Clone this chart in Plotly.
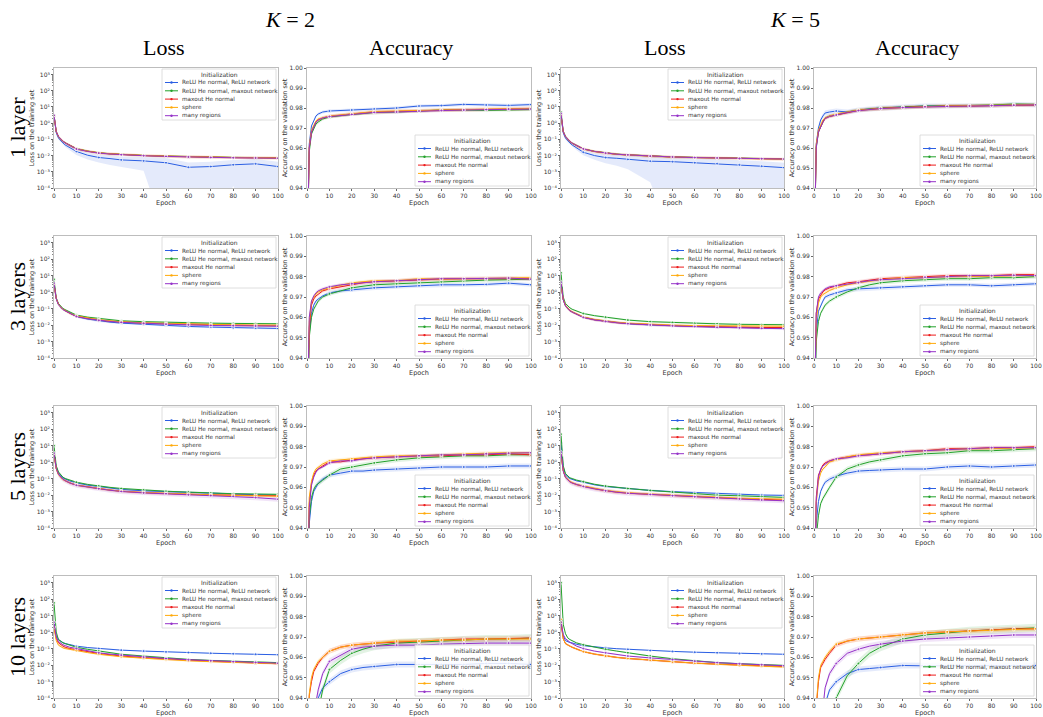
import plotly.graph_objects as go

# ---------------- data ----------------
EPOCHS = [0, 1, 2, 3, 4, 5, 7, 10, 15, 20, 25, 30, 40, 50, 60, 70, 80, 90, 100]
SERIES_NAMES = ["ReLU He normal, ReLU network", "ReLU He normal, maxout network",
                "maxout He normal", "sphere", "many regions"]
SERIES_COLORS = ["#2b5fe3", "#23a22b", "#ec1c1c", "#ffa90a", "#9532c8"]
LEGEND_TITLE = "Initialization"
EPOCH_TICKS = [0, 10, 20, 30, 40, 50, 60, 70, 80, 90, 100]
ACC_TICKS = [0.94, 0.95, 0.96, 0.97, 0.98, 0.99, 1.00]
LOSS_TICK_EXPONENTS = [-4, -3, -2, -1, 0, 1, 2, 3]
ROW_LABELS = ["1 layer", "3 layers", "5 layers", "10 layers"]
COLUMN_TITLES = ["Loss", "Accuracy", "Loss", "Accuracy"]
GROUP_TITLES = ["<i>K</i> = 2", "<i>K</i> = 5"]
X_TITLE = "Epoch"
LOSS_Y_TITLE = "Loss on the training set"
ACC_Y_TITLE = "Accuracy on the validation set"

# training loss, order: ReLU/ReLU, ReLU/maxout, maxout He, sphere, many regions
LOSS_K2_L1 = [
    [3.0, 0.25, 0.12, 0.08, 0.06, 0.045, 0.03, 0.018, 0.0105, 0.0076, 0.0065, 0.0054, 0.0047, 0.0036, 0.0019, 0.0021, 0.0027, 0.0031, 0.0021],
    [3.2, 0.30, 0.15, 0.10, 0.077, 0.062, 0.043, 0.027, 0.019, 0.0148, 0.013, 0.0117, 0.0102, 0.0093, 0.0085, 0.0080, 0.0077, 0.0075, 0.0073],
    [3.0, 0.30, 0.15, 0.10, 0.076, 0.061, 0.042, 0.026, 0.0185, 0.0145, 0.0128, 0.0115, 0.0100, 0.0091, 0.0083, 0.0078, 0.0075, 0.0073, 0.0071],
    [2.8, 0.29, 0.145, 0.098, 0.075, 0.060, 0.042, 0.026, 0.0187, 0.0147, 0.0129, 0.0116, 0.0101, 0.0092, 0.0084, 0.0079, 0.0076, 0.0074, 0.0072],
    [3.1, 0.30, 0.15, 0.10, 0.075, 0.060, 0.041, 0.0255, 0.018, 0.0142, 0.0125, 0.0112, 0.0098, 0.0089, 0.0081, 0.0076, 0.0073, 0.0071, 0.0069],
]
LOSS_K5_L1 = [
    [3.0, 0.25, 0.12, 0.08, 0.06, 0.045, 0.03, 0.016, 0.010, 0.0075, 0.0068, 0.0058, 0.0045, 0.0042, 0.0036, 0.0032, 0.0027, 0.0022, 0.0018],
    [5.0, 0.32, 0.155, 0.10, 0.076, 0.059, 0.041, 0.026, 0.0182, 0.0142, 0.0122, 0.0111, 0.0093, 0.0083, 0.0077, 0.0072, 0.0067, 0.0065, 0.0062],
    [3.5, 0.30, 0.15, 0.10, 0.075, 0.058, 0.040, 0.0258, 0.018, 0.014, 0.012, 0.011, 0.0092, 0.0082, 0.0076, 0.0071, 0.0066, 0.0064, 0.0061],
    [3.0, 0.30, 0.148, 0.099, 0.074, 0.057, 0.040, 0.0255, 0.0178, 0.0139, 0.0119, 0.0109, 0.0091, 0.0081, 0.0075, 0.0070, 0.0066, 0.0063, 0.0060],
    [4.0, 0.30, 0.15, 0.10, 0.075, 0.058, 0.040, 0.0257, 0.0179, 0.014, 0.012, 0.011, 0.0092, 0.0082, 0.0075, 0.0071, 0.0066, 0.0064, 0.0061],
]
LOSS_K2_L3 = [
    [3.0, 0.40, 0.18, 0.12, 0.09, 0.075, 0.052, 0.033, 0.023, 0.018, 0.015, 0.013, 0.011, 0.0095, 0.0082, 0.0075, 0.0068, 0.0065, 0.0062],
    [6.0, 0.45, 0.20, 0.13, 0.10, 0.085, 0.060, 0.040, 0.030, 0.025, 0.021, 0.018, 0.016, 0.0145, 0.0135, 0.013, 0.0125, 0.012, 0.012],
    [3.0, 0.40, 0.18, 0.12, 0.09, 0.075, 0.052, 0.034, 0.025, 0.020, 0.017, 0.015, 0.013, 0.012, 0.011, 0.0102, 0.0097, 0.0093, 0.0090],
    [2.8, 0.40, 0.18, 0.12, 0.092, 0.076, 0.053, 0.035, 0.026, 0.021, 0.018, 0.0155, 0.0135, 0.0123, 0.0113, 0.0106, 0.0102, 0.0099, 0.0098],
    [3.5, 0.38, 0.17, 0.115, 0.088, 0.073, 0.051, 0.033, 0.024, 0.019, 0.0165, 0.0145, 0.0125, 0.0112, 0.0102, 0.0094, 0.0090, 0.0087, 0.0085],
]
LOSS_K5_L3 = [
    [3.0, 0.35, 0.15, 0.10, 0.075, 0.062, 0.045, 0.030, 0.021, 0.017, 0.014, 0.012, 0.0102, 0.0090, 0.0082, 0.0076, 0.0071, 0.0068, 0.0065],
    [15.0, 0.50, 0.20, 0.14, 0.11, 0.09, 0.068, 0.050, 0.037, 0.030, 0.024, 0.020, 0.016, 0.0142, 0.0127, 0.0118, 0.011, 0.0105, 0.0105],
    [3.0, 0.35, 0.15, 0.10, 0.075, 0.062, 0.045, 0.030, 0.021, 0.017, 0.014, 0.0125, 0.0105, 0.0093, 0.0084, 0.0078, 0.0073, 0.0071, 0.0070],
    [2.5, 0.36, 0.155, 0.105, 0.078, 0.064, 0.046, 0.031, 0.022, 0.0175, 0.0148, 0.013, 0.011, 0.0098, 0.0092, 0.0088, 0.0086, 0.0085, 0.0085],
    [4.0, 0.34, 0.145, 0.098, 0.074, 0.061, 0.044, 0.029, 0.0205, 0.0165, 0.0138, 0.012, 0.010, 0.0089, 0.0080, 0.0072, 0.0067, 0.0063, 0.0060],
]
LOSS_K2_L5 = [
    [3.0, 0.50, 0.22, 0.15, 0.11, 0.095, 0.072, 0.055, 0.040, 0.033, 0.027, 0.022, 0.018, 0.016, 0.014, 0.012, 0.011, 0.0105, 0.010],
    [10.0, 0.60, 0.25, 0.16, 0.12, 0.10, 0.078, 0.060, 0.044, 0.035, 0.029, 0.025, 0.020, 0.017, 0.015, 0.013, 0.012, 0.0115, 0.011],
    [3.0, 0.40, 0.18, 0.12, 0.09, 0.075, 0.055, 0.040, 0.030, 0.025, 0.020, 0.017, 0.014, 0.012, 0.011, 0.0102, 0.0097, 0.0093, 0.0090],
    [2.5, 0.38, 0.17, 0.115, 0.088, 0.074, 0.055, 0.040, 0.030, 0.025, 0.020, 0.017, 0.0142, 0.0125, 0.011, 0.0102, 0.0095, 0.009, 0.0085],
    [3.5, 0.40, 0.18, 0.12, 0.09, 0.074, 0.054, 0.039, 0.029, 0.024, 0.0195, 0.0165, 0.0135, 0.012, 0.0103, 0.0092, 0.0083, 0.0070, 0.0056],
]
LOSS_K5_L5 = [
    [15.0, 0.50, 0.17, 0.12, 0.10, 0.09, 0.072, 0.060, 0.042, 0.033, 0.028, 0.024, 0.019, 0.016, 0.014, 0.012, 0.011, 0.010, 0.0095],
    [50.0, 0.60, 0.20, 0.14, 0.11, 0.10, 0.080, 0.065, 0.045, 0.035, 0.029, 0.025, 0.019, 0.015, 0.012, 0.0098, 0.009, 0.008, 0.0072],
    [3.0, 0.30, 0.12, 0.085, 0.065, 0.055, 0.043, 0.034, 0.024, 0.018, 0.015, 0.013, 0.011, 0.0092, 0.0080, 0.0070, 0.0060, 0.0055, 0.0050],
    [2.5, 0.30, 0.125, 0.088, 0.068, 0.057, 0.044, 0.035, 0.025, 0.019, 0.016, 0.0138, 0.0115, 0.0097, 0.0082, 0.0072, 0.0064, 0.0060, 0.0056],
    [4.0, 0.28, 0.115, 0.082, 0.063, 0.053, 0.042, 0.033, 0.0235, 0.0178, 0.0148, 0.0128, 0.0107, 0.0090, 0.0078, 0.0068, 0.0058, 0.0050, 0.0045],
]
LOSS_K2_L10 = [
    [3.0, 0.60, 0.35, 0.27, 0.23, 0.20, 0.17, 0.14, 0.115, 0.10, 0.088, 0.080, 0.070, 0.062, 0.057, 0.052, 0.048, 0.045, 0.042],
    [60.0, 1.0, 0.35, 0.26, 0.22, 0.20, 0.16, 0.12, 0.09, 0.07, 0.055, 0.045, 0.035, 0.027, 0.022, 0.019, 0.017, 0.015, 0.014],
    [2.0, 0.40, 0.22, 0.17, 0.14, 0.12, 0.10, 0.085, 0.063, 0.050, 0.042, 0.035, 0.028, 0.023, 0.019, 0.017, 0.015, 0.013, 0.012],
    [2.0, 0.30, 0.16, 0.13, 0.11, 0.10, 0.088, 0.075, 0.057, 0.045, 0.038, 0.032, 0.026, 0.021, 0.018, 0.016, 0.0145, 0.013, 0.012],
    [4.0, 0.50, 0.27, 0.20, 0.17, 0.15, 0.12, 0.10, 0.072, 0.055, 0.046, 0.040, 0.030, 0.025, 0.021, 0.018, 0.016, 0.0145, 0.013],
]
LOSS_K5_L10 = [
    [5.0, 0.60, 0.30, 0.25, 0.23, 0.22, 0.18, 0.15, 0.125, 0.11, 0.098, 0.090, 0.075, 0.067, 0.060, 0.055, 0.050, 0.047, 0.045],
    [1000.0, 3.0, 0.80, 0.45, 0.35, 0.30, 0.22, 0.17, 0.12, 0.09, 0.07, 0.055, 0.035, 0.024, 0.018, 0.014, 0.012, 0.0105, 0.0095],
    [3.0, 0.40, 0.20, 0.16, 0.14, 0.12, 0.09, 0.065, 0.046, 0.035, 0.029, 0.025, 0.019, 0.016, 0.013, 0.011, 0.010, 0.009, 0.008],
    [6.0, 0.40, 0.20, 0.16, 0.14, 0.12, 0.09, 0.065, 0.046, 0.035, 0.029, 0.025, 0.020, 0.015, 0.013, 0.011, 0.0095, 0.0085, 0.0075],
    [4.0, 0.70, 0.40, 0.30, 0.24, 0.20, 0.14, 0.10, 0.07, 0.055, 0.043, 0.035, 0.027, 0.021, 0.017, 0.014, 0.012, 0.0105, 0.009],
]

# relative spread of the loss bands (scalar or per-epoch list)
BLUE_SPREAD_K2_L1 = [0.2, 0.2, 0.2, 0.2, 0.2, 0.25, 0.3, 0.4, 0.45, 0.5, 0.6, 0.65, 0.75, 1.0, 1.0, 1.0, 0.95, 1.0, 1.0]
BLUE_SPREAD_K5_L1 = [0.2, 0.2, 0.2, 0.2, 0.2, 0.25, 0.3, 0.35, 0.45, 0.55, 0.65, 0.75, 0.95, 1.0, 1.0, 1.0, 1.0, 1.0, 1.0]
LOSS_SPREAD_K2_L1 = [BLUE_SPREAD_K2_L1, 0.12, 0.2, 0.2, 0.12]
LOSS_SPREAD_K5_L1 = [BLUE_SPREAD_K5_L1, 0.12, 0.2, 0.2, 0.12]
LOSS_SPREAD_K2_L3 = [0.15, 0.12, 0.18, 0.18, 0.12]
LOSS_SPREAD_K5_L3 = [0.15, 0.12, 0.18, 0.18, 0.15]
LOSS_SPREAD_K2_L5 = [0.12, 0.12, 0.18, 0.18, 0.3]
LOSS_SPREAD_K5_L5 = [0.12, 0.12, 0.2, 0.25, 0.3]
LOSS_SPREAD_K2_L10 = [0.08, 0.1, 0.12, 0.12, 0.1]
LOSS_SPREAD_K5_L10 = [0.08, 0.1, 0.12, 0.15, 0.1]

# validation accuracy
ACC_K2_L1 = [
    [0.90, 0.962, 0.971, 0.974, 0.976, 0.977, 0.978, 0.9785, 0.9788, 0.979, 0.9792, 0.9795, 0.980, 0.981, 0.9812, 0.9818, 0.9815, 0.9813, 0.9817],
    [0.90, 0.958, 0.967, 0.970, 0.972, 0.973, 0.9745, 0.9755, 0.9762, 0.9768, 0.9772, 0.9778, 0.978, 0.9785, 0.979, 0.979, 0.9788, 0.979, 0.9792],
    [0.90, 0.960, 0.968, 0.971, 0.973, 0.974, 0.975, 0.9758, 0.9765, 0.977, 0.9775, 0.978, 0.9783, 0.9787, 0.979, 0.9792, 0.9793, 0.9796, 0.9797],
    [0.90, 0.961, 0.969, 0.9715, 0.9735, 0.9745, 0.9752, 0.976, 0.9765, 0.977, 0.9775, 0.9782, 0.9785, 0.9788, 0.979, 0.9792, 0.9794, 0.9796, 0.9798],
    [0.90, 0.960, 0.968, 0.971, 0.973, 0.974, 0.975, 0.9757, 0.9763, 0.9768, 0.9773, 0.9778, 0.978, 0.9785, 0.9787, 0.979, 0.9792, 0.9795, 0.9795],
]
ACC_K5_L1 = [
    [0.90, 0.962, 0.970, 0.974, 0.976, 0.9775, 0.978, 0.9785, 0.978, 0.979, 0.9795, 0.980, 0.9805, 0.981, 0.981, 0.981, 0.9812, 0.9818, 0.9815],
    [0.90, 0.960, 0.968, 0.971, 0.973, 0.975, 0.976, 0.9765, 0.978, 0.979, 0.9795, 0.980, 0.9805, 0.981, 0.981, 0.9812, 0.9815, 0.982, 0.9818],
    [0.90, 0.961, 0.968, 0.971, 0.973, 0.9748, 0.9758, 0.9765, 0.9778, 0.9788, 0.9793, 0.9798, 0.9803, 0.9807, 0.981, 0.981, 0.9812, 0.9815, 0.9815],
    [0.90, 0.962, 0.969, 0.972, 0.974, 0.975, 0.976, 0.977, 0.978, 0.979, 0.9793, 0.9798, 0.9802, 0.9807, 0.981, 0.9812, 0.9813, 0.9815, 0.9817],
    [0.90, 0.960, 0.968, 0.971, 0.973, 0.9748, 0.9758, 0.9765, 0.9778, 0.9787, 0.9792, 0.9797, 0.9802, 0.9806, 0.9808, 0.981, 0.9812, 0.9814, 0.9816],
]
ACC_K2_L3 = [
    [0.90, 0.952, 0.962, 0.966, 0.968, 0.969, 0.9705, 0.972, 0.973, 0.9735, 0.974, 0.9745, 0.975, 0.9755, 0.976, 0.976, 0.9762, 0.9768, 0.976],
    [0.90, 0.950, 0.960, 0.964, 0.966, 0.968, 0.970, 0.9715, 0.973, 0.9745, 0.9753, 0.976, 0.9765, 0.977, 0.9775, 0.978, 0.9783, 0.9785, 0.9788],
    [0.90, 0.955, 0.966, 0.969, 0.9705, 0.9715, 0.973, 0.974, 0.975, 0.976, 0.977, 0.9775, 0.978, 0.9785, 0.9788, 0.979, 0.979, 0.9792, 0.979],
    [0.90, 0.958, 0.968, 0.970, 0.9715, 0.9725, 0.9735, 0.9745, 0.9758, 0.977, 0.9775, 0.978, 0.978, 0.979, 0.9788, 0.979, 0.9792, 0.9795, 0.9795],
    [0.90, 0.960, 0.968, 0.9705, 0.972, 0.973, 0.974, 0.975, 0.976, 0.9765, 0.977, 0.9775, 0.978, 0.9785, 0.979, 0.979, 0.979, 0.9793, 0.9788],
]
ACC_K5_L3 = [
    [0.90, 0.952, 0.963, 0.966, 0.968, 0.970, 0.971, 0.972, 0.9735, 0.974, 0.9742, 0.9745, 0.975, 0.9755, 0.976, 0.976, 0.9755, 0.976, 0.9765],
    [0.90, 0.948, 0.958, 0.962, 0.964, 0.966, 0.968, 0.970, 0.9725, 0.9745, 0.976, 0.977, 0.978, 0.9785, 0.979, 0.979, 0.9795, 0.9795, 0.980],
    [0.90, 0.962, 0.969, 0.971, 0.9725, 0.9735, 0.9745, 0.9755, 0.977, 0.9775, 0.9783, 0.979, 0.9795, 0.980, 0.9805, 0.9805, 0.9805, 0.981, 0.981],
    [0.90, 0.958, 0.967, 0.970, 0.9712, 0.972, 0.9732, 0.9745, 0.976, 0.977, 0.9778, 0.9785, 0.9795, 0.9795, 0.980, 0.980, 0.9802, 0.9805, 0.9805],
    [0.90, 0.962, 0.970, 0.972, 0.973, 0.974, 0.975, 0.9755, 0.9765, 0.977, 0.978, 0.9785, 0.979, 0.9798, 0.980, 0.9805, 0.9805, 0.9807, 0.9805],
]
ACC_K2_L5 = [
    [0.90, 0.942, 0.953, 0.958, 0.960, 0.962, 0.964, 0.966, 0.967, 0.968, 0.968, 0.9685, 0.969, 0.9695, 0.970, 0.970, 0.970, 0.9705, 0.9705],
    [0.90, 0.945, 0.955, 0.959, 0.961, 0.962, 0.9635, 0.966, 0.969, 0.970, 0.971, 0.972, 0.9735, 0.9745, 0.975, 0.9755, 0.9755, 0.976, 0.976],
    [0.90, 0.952, 0.962, 0.966, 0.968, 0.969, 0.9705, 0.9725, 0.9725, 0.9735, 0.974, 0.9745, 0.975, 0.9755, 0.9755, 0.976, 0.976, 0.9765, 0.976],
    [0.90, 0.955, 0.963, 0.967, 0.969, 0.970, 0.9715, 0.973, 0.9735, 0.974, 0.9745, 0.975, 0.9755, 0.9755, 0.976, 0.9765, 0.9768, 0.977, 0.977],
    [0.90, 0.950, 0.961, 0.965, 0.9675, 0.969, 0.970, 0.972, 0.973, 0.973, 0.974, 0.9745, 0.975, 0.9755, 0.976, 0.976, 0.9765, 0.9768, 0.977],
]
ACC_K5_L5 = [
    [0.90, 0.942, 0.953, 0.958, 0.9605, 0.9625, 0.964, 0.9655, 0.967, 0.968, 0.9683, 0.9685, 0.969, 0.969, 0.970, 0.9705, 0.970, 0.9705, 0.971],
    [0.88, 0.935, 0.946, 0.952, 0.9545, 0.9565, 0.960, 0.965, 0.969, 0.971, 0.9725, 0.9735, 0.9755, 0.9765, 0.977, 0.978, 0.978, 0.9785, 0.979],
    [0.90, 0.955, 0.966, 0.969, 0.971, 0.972, 0.973, 0.974, 0.975, 0.9758, 0.976, 0.9765, 0.9775, 0.978, 0.979, 0.979, 0.9795, 0.9795, 0.980],
    [0.90, 0.952, 0.963, 0.967, 0.969, 0.970, 0.9725, 0.9735, 0.975, 0.976, 0.9765, 0.977, 0.9775, 0.978, 0.9785, 0.979, 0.979, 0.9793, 0.9795],
    [0.90, 0.953, 0.965, 0.969, 0.9705, 0.9715, 0.973, 0.974, 0.9745, 0.9755, 0.976, 0.9765, 0.9775, 0.978, 0.9785, 0.979, 0.9795, 0.9795, 0.9795],
]
ACC_K2_L10 = [
    [0.85, 0.89, 0.91, 0.925, 0.934, 0.940, 0.945, 0.948, 0.952, 0.954, 0.955, 0.9555, 0.9565, 0.9565, 0.9565, 0.9565, 0.957, 0.957, 0.9565],
    [0.80, 0.86, 0.89, 0.91, 0.925, 0.933, 0.944, 0.954, 0.9585, 0.962, 0.964, 0.9655, 0.967, 0.9675, 0.968, 0.9685, 0.969, 0.969, 0.9695],
    [0.90, 0.941, 0.948, 0.953, 0.955, 0.957, 0.960, 0.963, 0.965, 0.966, 0.9665, 0.967, 0.9675, 0.968, 0.9685, 0.969, 0.969, 0.9693, 0.9695],
    [0.90, 0.942, 0.950, 0.954, 0.956, 0.958, 0.960, 0.963, 0.965, 0.966, 0.9665, 0.967, 0.968, 0.968, 0.9685, 0.9685, 0.969, 0.969, 0.969],
    [0.85, 0.895, 0.915, 0.928, 0.938, 0.944, 0.952, 0.958, 0.961, 0.964, 0.965, 0.9655, 0.966, 0.966, 0.9665, 0.9668, 0.967, 0.967, 0.967],
]
ACC_K5_L10 = [
    [0.85, 0.885, 0.905, 0.92, 0.93, 0.937, 0.944, 0.948, 0.952, 0.954, 0.9545, 0.955, 0.956, 0.9558, 0.9558, 0.956, 0.956, 0.956, 0.956],
    [0.70, 0.80, 0.85, 0.88, 0.90, 0.91, 0.925, 0.940, 0.951, 0.957, 0.962, 0.965, 0.969, 0.971, 0.972, 0.973, 0.9735, 0.974, 0.9745],
    [0.88, 0.935, 0.948, 0.955, 0.957, 0.959, 0.962, 0.966, 0.968, 0.969, 0.9695, 0.970, 0.971, 0.972, 0.9725, 0.973, 0.9735, 0.974, 0.974],
    [0.88, 0.936, 0.950, 0.956, 0.958, 0.960, 0.963, 0.9665, 0.968, 0.969, 0.9695, 0.970, 0.9712, 0.972, 0.9725, 0.973, 0.9733, 0.9737, 0.974],
    [0.84, 0.89, 0.91, 0.925, 0.935, 0.945, 0.952, 0.957, 0.962, 0.964, 0.9655, 0.9665, 0.968, 0.969, 0.9695, 0.970, 0.9705, 0.971, 0.971],
]

# absolute spread of the accuracy bands
ACC_SPREAD_K2_L1 = [0.0008, 0.0007, 0.0009, 0.0009, 0.0007]
ACC_SPREAD_K5_L1 = [0.0012, 0.0007, 0.0009, 0.0009, 0.0007]
ACC_SPREAD_K2_L3 = [0.0009, 0.0009, 0.0009, 0.0009, 0.0008]
ACC_SPREAD_K5_L3 = [0.0010, 0.0010, 0.0009, 0.0009, 0.0008]
ACC_SPREAD_K2_L5 = [0.0012, 0.0012, 0.0009, 0.0009, 0.0008]
ACC_SPREAD_K5_L5 = [0.0012, 0.0012, 0.0009, 0.0009, 0.0008]
ACC_SPREAD_K2_L10 = [0.0015, 0.0020, 0.0012, 0.0012, 0.0015]
ACC_SPREAD_K5_L10 = [0.0015, 0.0020, 0.0012, 0.0012, 0.0015]

LOSS_PANELS = [
    [(LOSS_K2_L1, LOSS_SPREAD_K2_L1), (LOSS_K5_L1, LOSS_SPREAD_K5_L1)],
    [(LOSS_K2_L3, LOSS_SPREAD_K2_L3), (LOSS_K5_L3, LOSS_SPREAD_K5_L3)],
    [(LOSS_K2_L5, LOSS_SPREAD_K2_L5), (LOSS_K5_L5, LOSS_SPREAD_K5_L5)],
    [(LOSS_K2_L10, LOSS_SPREAD_K2_L10), (LOSS_K5_L10, LOSS_SPREAD_K5_L10)],
]
ACC_PANELS = [
    [(ACC_K2_L1, ACC_SPREAD_K2_L1), (ACC_K5_L1, ACC_SPREAD_K5_L1)],
    [(ACC_K2_L3, ACC_SPREAD_K2_L3), (ACC_K5_L3, ACC_SPREAD_K5_L3)],
    [(ACC_K2_L5, ACC_SPREAD_K2_L5), (ACC_K5_L5, ACC_SPREAD_K5_L5)],
    [(ACC_K2_L10, ACC_SPREAD_K2_L10), (ACC_K5_L10, ACC_SPREAD_K5_L10)],
]

# ---------------- layout helpers ----------------
W, H = 1043, 717
ML, MR, MT, MB = 40, 3, 62, 15
AW, AH = W - ML - MR, H - MT - MB


def fx(px):
    return (px - ML) / AW


def fy(py):
    return 1 - (py - MT) / AH


COL_PX = [(54, 278), (307, 531), (561, 784), (814, 1036)]
ROW_PX = [(68, 188), (236, 358), (406, 528), (576, 698)]
SERIF = "Liberation Serif, DejaVu Serif, serif"
SANS = "DejaVu Sans, Arial, sans-serif"
SUPERSCRIPT = str.maketrans("-0123456789", "\u207b\u2070\u00b9\u00b2\u00b3\u2074\u2075\u2076\u2077\u2078\u2079")


def rgba(hexc, a):
    h = hexc.lstrip("#")
    return "rgba(%d,%d,%d,%.3f)" % (int(h[0:2], 16), int(h[2:4], 16), int(h[4:6], 16), a)


fig = go.Figure()
layout = dict(width=W, height=H, margin=dict(l=ML, r=MR, t=MT, b=MB),
              paper_bgcolor="white", plot_bgcolor="white", showlegend=False,
              font=dict(family=SANS, size=6, color="#333333"))
shapes, annotations = [], []
marker_sizes = [3 if e % 10 == 0 else 0 for e in EPOCHS]

for r in range(4):
    for c in range(4):
        idx = r * 4 + c + 1
        is_loss = c in (0, 2)
        kk = 0 if c < 2 else 1
        values, spreads = (LOSS_PANELS if is_loss else ACC_PANELS)[r][kk]
        xa = "x" if idx == 1 else "x%d" % idx
        ya = "y" if idx == 1 else "y%d" % idx
        # bands
        for s in range(5):
            m = values[s]
            assert len(m) == len(EPOCHS)
            sp = spreads[s]
            spl = sp if isinstance(sp, list) else [sp] * len(EPOCHS)
            if is_loss:
                up = [v * (1 + q) for v, q in zip(m, spl)]
                lo = [max(v * (1 - q), 1e-7) for v, q in zip(m, spl)]
            else:
                up = [v + q for v, q in zip(m, spl)]
                lo = [v - q for v, q in zip(m, spl)]
            fig.add_trace(go.Scatter(
                x=EPOCHS + EPOCHS[::-1], y=up + lo[::-1], xaxis=xa, yaxis=ya,
                fill="toself", fillcolor=rgba(SERIES_COLORS[s], 0.13),
                line=dict(width=0), mode="lines", hoverinfo="skip"))
        # lines
        for s in range(5):
            fig.add_trace(go.Scatter(
                x=EPOCHS, y=values[s], xaxis=xa, yaxis=ya, name=SERIES_NAMES[s],
                mode="lines+markers", line=dict(color=SERIES_COLORS[s], width=1),
                marker=dict(size=marker_sizes, color=SERIES_COLORS[s], symbol="circle")))

        x0, x1 = COL_PX[c]
        y0, y1 = ROW_PX[r]
        common = dict(showline=True, linecolor="#bdbdbd", linewidth=0.8, mirror=True,
                      ticks="outside", ticklen=2, tickwidth=0.6, tickcolor="#666666",
                      showgrid=False, zeroline=False, automargin=False,
                      tickfont=dict(size=6, color="#333333"))
        layout["xaxis" if idx == 1 else "xaxis%d" % idx] = dict(
            common, domain=[fx(x0), fx(x1)], anchor=ya, range=[0, 100],
            tickmode="array", tickvals=EPOCH_TICKS,
            title=dict(text=X_TITLE, font=dict(size=6.5, color="#333333"), standoff=1))
        if is_loss:
            yax = dict(common, type="log", range=[-4, 3.4], tickmode="array",
                       tickvals=[10.0 ** e for e in LOSS_TICK_EXPONENTS],
                       ticktext=["10" + str(e).translate(SUPERSCRIPT) for e in LOSS_TICK_EXPONENTS],
                       minor=dict(ticks="outside", ticklen=1.2, tickcolor="#888888",
                                  tickvals=[k * 10.0 ** e for e in LOSS_TICK_EXPONENTS for k in range(2, 10)]),
                       title=dict(text=LOSS_Y_TITLE, font=dict(size=6.5, color="#333333"), standoff=1))
        else:
            yax = dict(common, range=[0.94, 1.0], tickmode="array", tickvals=ACC_TICKS,
                       tickformat=".2f",
                       title=dict(text=ACC_Y_TITLE, font=dict(size=6.5, color="#333333"), standoff=1))
        layout["yaxis" if idx == 1 else "yaxis%d" % idx] = dict(
            yax, domain=[fy(y1), fy(y0)], anchor=xa)

        # manual legend box
        bw, bh = 114, 51
        bx1 = x1 - 2
        bx0 = bx1 - bw
        if is_loss:
            by0 = y0 + 1
        else:
            by0 = y1 - 2 - bh
        shapes.append(dict(type="rect", xref="paper", yref="paper",
                           x0=fx(bx0), x1=fx(bx1), y0=fy(by0 + bh), y1=fy(by0),
                           fillcolor="rgba(255,255,255,0.85)",
                           line=dict(color="#d6d6d6", width=0.8), layer="above"))
        annotations.append(dict(xref="paper", yref="paper", x=fx(bx0 + bw / 2), y=fy(by0 + 5.5),
                                text=LEGEND_TITLE, showarrow=False, xanchor="center", yanchor="middle",
                                font=dict(size=6, color="#333333", family=SANS), borderpad=0))
        for s in range(5):
            ly = by0 + 13.5 + s * 8.3
            shapes.append(dict(type="line", xref="paper", yref="paper",
                               x0=fx(bx0 + 3), x1=fx(bx0 + 16), y0=fy(ly), y1=fy(ly),
                               line=dict(color=SERIES_COLORS[s], width=1), layer="above"))
            shapes.append(dict(type="circle", xref="paper", yref="paper",
                               x0=fx(bx0 + 8.3), x1=fx(bx0 + 10.7), y0=fy(ly + 1.2), y1=fy(ly - 1.2),
                               fillcolor=SERIES_COLORS[s], line=dict(width=0), layer="above"))
            annotations.append(dict(xref="paper", yref="paper", x=fx(bx0 + 19), y=fy(ly),
                                    text=SERIES_NAMES[s], showarrow=False, xanchor="left",
                                    yanchor="middle", font=dict(size=5.7, color="#333333", family=SANS),
                                    borderpad=0))

# big titles
for g, cx in zip(GROUP_TITLES, [290, 795]):
    annotations.append(dict(xref="paper", yref="paper", x=fx(cx), y=fy(19), text=g,
                            xanchor="center", yanchor="middle",
                            showarrow=False, font=dict(family=SERIF, size=22, color="black")))
for t, cx in zip(COLUMN_TITLES, [164, 411, 665, 917]):
    annotations.append(dict(xref="paper", yref="paper", x=fx(cx), y=fy(47), text=t,
                            xanchor="center", yanchor="middle",
                            showarrow=False, font=dict(family=SERIF, size=22, color="black")))
for t, cy in zip(ROW_LABELS, [128, 297, 467, 637]):
    annotations.append(dict(xref="paper", yref="paper", x=fx(17), y=fy(cy), text=t, textangle=-90,
                            xanchor="center", yanchor="middle",
                            showarrow=False, font=dict(family=SERIF, size=22, color="black")))

layout["shapes"] = shapes
layout["annotations"] = annotations
fig.update_layout(**layout)
fig.write_html("out.html", config={"displayModeBar": False},
               post_script="document.body.style.margin='0';")
